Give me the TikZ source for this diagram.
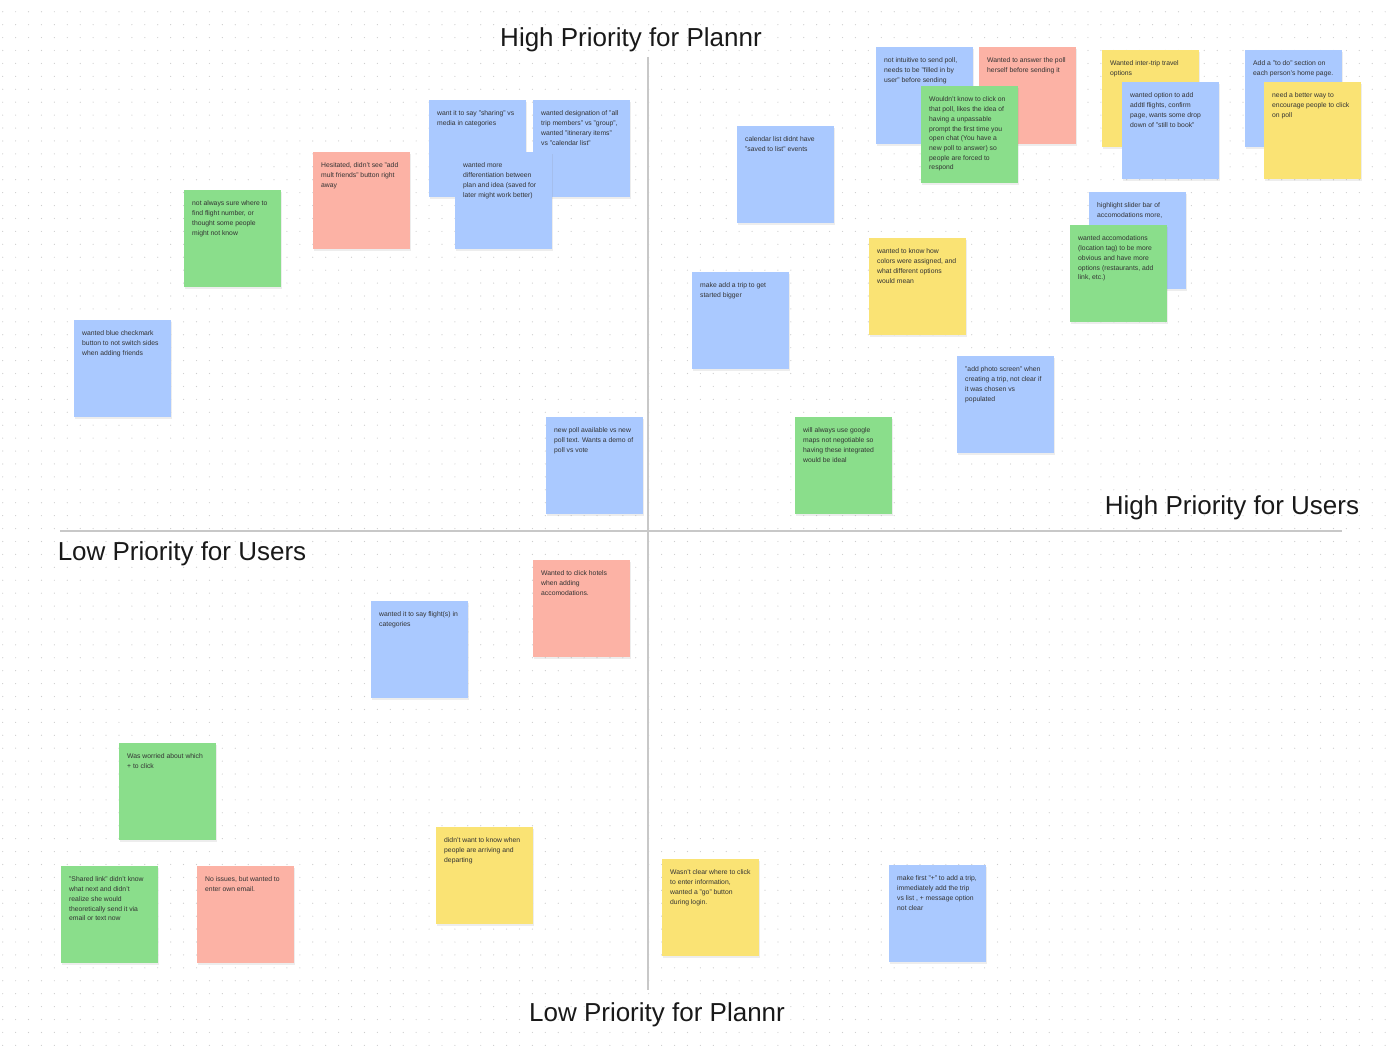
\documentclass[tikz,border=0pt]{standalone}
\usepackage{fontspec}
\setmainfont{Liberation Sans}
\usepackage{xcolor}
\usepackage{tikz}
\usetikzlibrary{shadows}

\definecolor{stickyblue}{RGB}{170,201,255}
\definecolor{stickygreen}{RGB}{138,222,139}
\definecolor{stickyred}{RGB}{252,178,165}
\definecolor{stickyyellow}{RGB}{250,227,116}
\definecolor{inkgray}{RGB}{51,51,51}
\definecolor{axisgray}{RGB}{200,200,200}
\definecolor{dotgray}{RGB}{205,205,205}

\tikzset{
  note/.style={rectangle, anchor=north west, inner sep=0pt, minimum width=97pt, minimum height=97pt, fill=#1,
    drop shadow={shadow xshift=0.4pt, shadow yshift=-1.6pt, opacity=0.14}},
  notetext/.style={anchor=north west, inner sep=0pt, align=left, text=inkgray, font=\fontsize{6.8}{9.7}\selectfont},
  title/.style={inner sep=0pt, text=black!90, font=\fontsize{26}{30}\selectfont},
  axis/.style={draw=axisgray, line width=1.5pt}
}

\newcommand{\sticky}[5]{%
  \node[note=#2] (#1) at (#3,#4) {};
  \node[notetext] (#1txt) at ([shift={(8,10.8)}]#1.north west) {#5};
}

\begin{document}
\begin{tikzpicture}[x=1pt,y=-1pt]
\fill[white] (0,0) rectangle (1387,1051);
\useasboundingbox (0,0) rectangle (1387,1051);
\foreach \r in {0,...,80}
  \draw[dotgray, line width=1.2pt, line cap=round, dash pattern=on 0pt off 12.92pt] (2.7,11.76+12.92*\r) -- (1387,11.76+12.92*\r);

\coordinate (xleft) at (60,531);
\coordinate (xright) at (1342,531);
\coordinate (ytop) at (648,57);
\coordinate (ybottom) at (648,990);
\draw[axis] (xleft) -- (xright);
\draw[axis] (ytop) -- (ybottom);

\node[title] (plannrhigh) at (631,40) {High Priority for Plannr};
\node[title] (usershigh) at (1232,508) {High Priority for Users};
\node[title] (userslow) at (182,554) {Low Priority for Users};
\node[title] (plannrlow) at (657,1015) {Low Priority for Plannr};

% high for plannr, low for users
\sticky{flightno}{stickygreen}{184}{190}{not always sure where to\\find flight number, or\\thought some people\\might not know}
\sticky{checkmark}{stickyblue}{74}{320}{wanted blue checkmark\\button to not switch sides\\when adding friends}
\sticky{multfriends}{stickyred}{313}{152}{Hesitated, didn't see "add\\mult friends" button right\\away}
\sticky{sharing}{stickyblue}{429}{100}{want it to say "sharing" vs\\media in categories}
\sticky{members}{stickyblue}{533}{100}{wanted designation of "all\\trip members" vs "group",\\wanted "itinerary items"\\vs "calendar list"}
\sticky{planidea}{stickyblue}{455}{152}{wanted more\\differentiation between\\plan and idea (saved for\\later might work better)}
\sticky{newpoll}{stickyblue}{546}{417}{new poll available vs new\\poll text. Wants a demo of\\poll vs vote}

% high for plannr, high for users
\sticky{calendar}{stickyblue}{737}{126}{calendar list didnt have\\"saved to list" events}
\sticky{addtrip}{stickyblue}{692}{272}{make add a trip to get\\started bigger}
\sticky{sendpoll}{stickyblue}{876}{47}{not intuitive to send poll,\\needs to be "filled in by\\user" before sending}
\sticky{answerpoll}{stickyred}{979}{47}{Wanted to answer the poll\\herself before sending it}
\sticky{clickpoll}{stickygreen}{921}{86}{Wouldn't know to click on\\that poll, likes the idea of\\having a unpassable\\prompt the first time you\\open chat (You have a\\new poll to answer) so\\people are forced to\\respond}
\sticky{intertrip}{stickyyellow}{1102}{50}{Wanted inter-trip travel\\options}
\sticky{addflights}{stickyblue}{1122}{82}{wanted option to add\\addtl flights, confirm\\page, wants some drop\\down of "still to book"}
\sticky{todo}{stickyblue}{1245}{50}{Add a "to do" section on\\each person's home page.}
\sticky{encourage}{stickyyellow}{1264}{82}{need a better way to\\encourage people to click\\on poll}
\sticky{colors}{stickyyellow}{869}{238}{wanted to know how\\colors were assigned, and\\what different options\\would mean}
\sticky{slider}{stickyblue}{1089}{192}{highlight slider bar of\\accomodations more,}
\sticky{locationtag}{stickygreen}{1070}{225}{wanted accomodations\\(location tag) to be more\\obvious and have more\\options (restaurants, add\\link, etc.)}
\sticky{photo}{stickyblue}{957}{356}{"add photo screen" when\\creating a trip, not clear if\\it was chosen vs\\populated}
\sticky{googlemaps}{stickygreen}{795}{417}{will always use google\\maps not negotiable so\\having these integrated\\would be ideal}

% low for plannr
\sticky{flights}{stickyblue}{371}{601}{wanted it to say flight(s) in\\categories}
\sticky{hotels}{stickyred}{533}{560}{Wanted to click hotels\\when adding\\accomodations.}
\sticky{whichplus}{stickygreen}{119}{743}{Was worried about which\\+ to click}
\sticky{sharedlink}{stickygreen}{61}{866}{"Shared link" didn't know\\what next and didn't\\realize she would\\theoretically send it via\\email or text now}
\sticky{ownemail}{stickyred}{197}{866}{No issues, but wanted to\\enter own email.}
\sticky{arriving}{stickyyellow}{436}{827}{didn't want to know when\\people are arriving and\\departing}
\sticky{gobutton}{stickyyellow}{662}{859}{Wasn't clear where to click\\to enter information,\\wanted a "go" button\\during login.}
\sticky{firstplus}{stickyblue}{889}{865}{make first "+" to add a trip,\\immediately add the trip\\vs list , + message option\\not clear}
\end{tikzpicture}
\end{document}
